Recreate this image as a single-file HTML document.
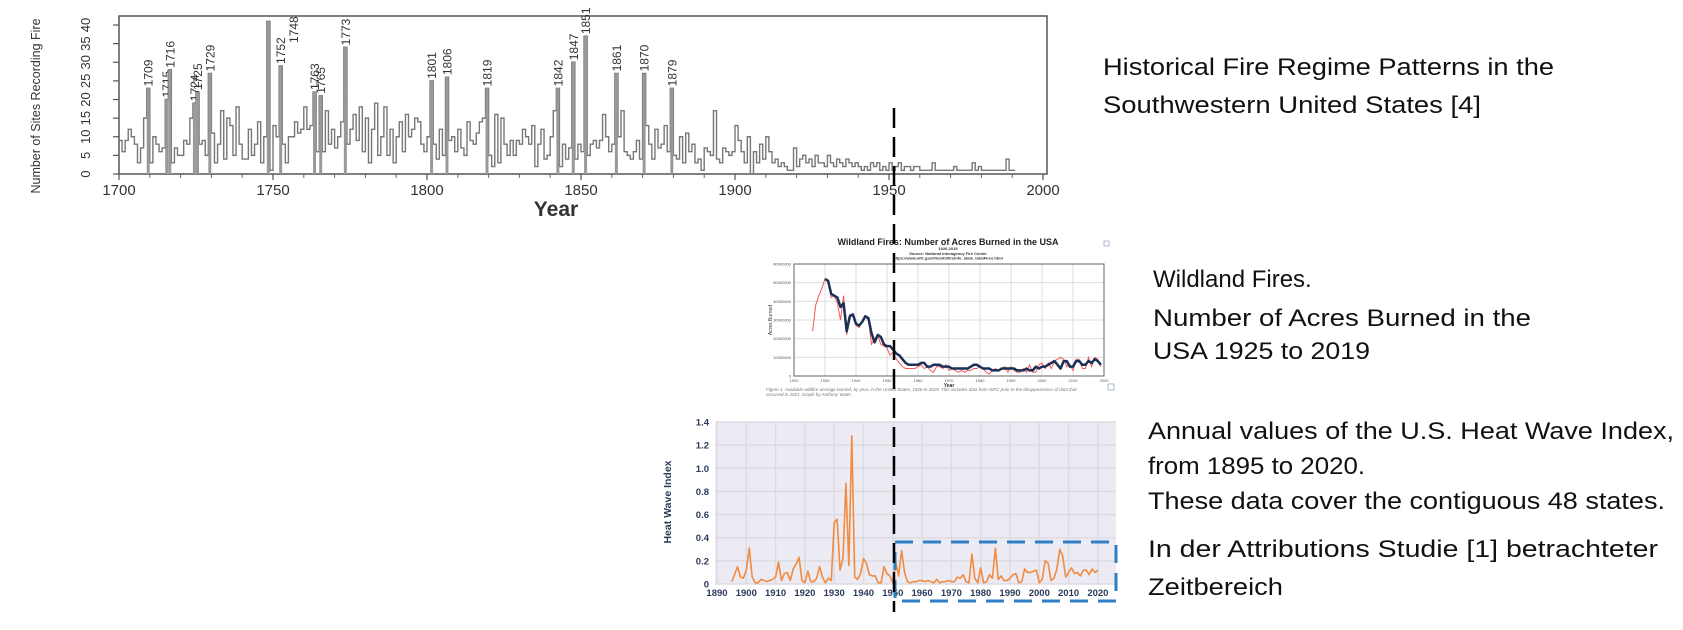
<!DOCTYPE html>
<html><head><meta charset="utf-8"><style>
html,body{margin:0;padding:0;background:#fff;}
svg{display:block;font-family:"Liberation Sans",sans-serif;}
.rt{font-family:"Liberation Sans",sans-serif;font-size:24px;fill:#111;}
</style></head><body>
<svg id="s" width="1683" height="630" viewBox="0 0 1683 630">
<g id="top"></g>
<g id="mid"></g>
<g id="bot"></g>
<g>
<text class="rt" x="1103" y="75" textLength="451" lengthAdjust="spacingAndGlyphs">Historical Fire Regime Patterns in the</text>
<text class="rt" x="1103" y="113" textLength="378" lengthAdjust="spacingAndGlyphs">Southwestern United States [4]</text>
<text class="rt" x="1153" y="287">Wildland Fires.</text>
<text class="rt" x="1153" y="326" textLength="378" lengthAdjust="spacingAndGlyphs">Number of Acres Burned in the</text>
<text class="rt" x="1153" y="359" textLength="217" lengthAdjust="spacingAndGlyphs">USA 1925 to 2019</text>
<text class="rt" x="1148" y="439" textLength="526" lengthAdjust="spacingAndGlyphs">Annual values of the U.S. Heat Wave Index,</text>
<text class="rt" x="1148" y="474" textLength="217" lengthAdjust="spacingAndGlyphs">from 1895 to 2020.</text>
<text class="rt" x="1148" y="509" textLength="517" lengthAdjust="spacingAndGlyphs">These data cover the contiguous 48 states.</text>
<text class="rt" x="1148" y="557" textLength="510" lengthAdjust="spacingAndGlyphs">In der Attributions Studie [1] betrachteter</text>
<text class="rt" x="1148" y="595" textLength="135" lengthAdjust="spacingAndGlyphs">Zeitbereich</text>
</g>
<rect x="895" y="542" width="221" height="59" fill="none" stroke="#2f7fc4" stroke-width="3" stroke-dasharray="18,10"/>
<line x1="894" y1="108" x2="894" y2="612" stroke="#000" stroke-width="2.5" stroke-dasharray="20,9"/>
</svg>
<script>
// ---------- top chart data ----------
const fireStartYear = 1700;
const fireCounts = [
9,6,9,12,10,8,3,7,15,23,
3,10,8,6,7,20,28,3,7,5,
5,9,8,15,19,22,8,9,5,27,
11,3,8,17,4,15,13,5,18,8,
4,4,12,5,8,14,3,10,41,1,
13,10,29,8,3,10,10,14,11,12,
18,12,13,22,6,21,6,17,8,12,
7,10,14,34,8,12,16,9,18,6,
15,3,12,19,5,10,18,5,12,3,
10,14,6,16,10,12,15,14,8,6,
10,25,8,4,12,5,26,9,10,6,
12,7,5,14,9,8,11,14,15,23,
5,2,16,3,15,8,5,9,5,9,
8,12,10,8,13,2,8,12,4,5,
10,17,23,2,8,4,7,30,4,8,
6,37,5,8,9,7,9,16,10,6,
8,27,10,17,6,5,4,6,9,4,
27,13,8,4,12,7,8,13,6,23,
5,4,10,3,11,6,8,3,4,1,
7,6,5,17,4,3,7,6,5,6,
13,9,6,3,10,0,6,3,8,4,
10,6,3,4,2,3,2,1,1,7,
2,4,5,3,4,2,5,3,3,2,
5,3,2,4,3,2,4,3,2,3,
2,1,2,1,3,2,3,1,2,1,
3,1,2,3,1,2,2,1,2,2,
1,1,1,1,3,1,1,1,1,1,
1,2,1,1,1,1,1,3,1,2,
1,1,1,1,1,1,1,1,4,1,
1];
const fireLabelYears = [1709,1715,1716,1724,1725,1729,1748,1752,1763,1765,1773,1801,1806,1819,1842,1847,1851,1861,1870,1879];
const fireYTicks = [0,5,10,15,20,25,30,35,40];
const fireXTicks = [1700,1750,1800,1850,1900,1950,2000];

// ---------- middle chart data ----------
const acresRedYears = [];
for (let y=1926;y<=2019;y++) acresRedYears.push(y);
const acresRed = [24,38,43,47,52,50,42,43,39,30,43,22,33,33,27,26,29,32,30,17,20,22,17,16,15,11,13,9,7,5,4,4,4,4,5,6,4,5,3,2,5,5,4,6,3,4,3,2,3,2,3,3,4,4,5,4,2,1,3,4,3,4,5,2,5,3,2,2,4,2,6,2,2,6,7,4,7,4,8,9,10,9,5,6,3,9,9,4,4,10,5,10,9,5];
const acresBlueYears = [];
for (let y=1930;y<=2019;y++) acresBlueYears.push(y);
const acresBlue = [52,51,44,43,42,37,39,24,32,33,28,27,29,32,31,23,18,22,21,17,16,16,14,12,11,9,7,6,6,6,6,7,7,5,5,6,6,6,5,5,5,4,4,4,4,4,4,5,6,6,5,4,4,4,3,3,3,4,4,4,4,4,3,3,3,4,3,3,5,4,5,5,6,7,8,6,4,8,8,5,5,8,8,6,6,8,7,9,8,6];
const acresYTicks = [0,10,20,30,40,50,60];
const acresXTicks = [1920,1930,1940,1950,1960,1970,1980,1990,2000,2010,2020];

// ---------- bottom chart data ----------
const heatStartYear = 1895;
const heatIndex = [0.02,0.08,0.15,0.06,0.05,0.12,0.31,0.06,0.01,0.01,
0.04,0.03,0.02,0.03,0.04,0.06,0.19,0.03,0.09,0.1,
0.03,0.13,0.17,0.23,0.03,0.01,0.11,0.02,0.02,0.05,
0.15,0.06,0.01,0.05,0.03,0.53,0.56,0.12,0.22,0.87,
0.16,1.28,0.06,0.04,0.09,0.22,0.18,0.08,0.07,0.07,
0.01,0.01,0.15,0.09,0.07,0.01,0.19,0.07,0.29,0.1,
0.02,0.01,0.02,0.02,0.03,0.03,0.02,0.03,0.02,0.01,
0.04,0.01,0.02,0.02,0.03,0.02,0.02,0.06,0.05,0.08,
0.02,0.01,0.26,0.05,0.01,0.14,0.01,0.02,0.08,0.05,
0.31,0.04,0.07,0.03,0.03,0.05,0.08,0.09,0.01,0.02,
0.13,0.1,0.1,0.11,0.12,0.01,0.04,0.2,0.18,0.03,
0.05,0.13,0.3,0.24,0.06,0.1,0.14,0.09,0.1,0.07,
0.12,0.12,0.08,0.13,0.1,0.12];
const heatYTicks = [0,0.2,0.4,0.6,0.8,1.0,1.2,1.4];
const heatXTicks = [1890,1900,1910,1920,1930,1940,1950,1960,1970,1980,1990,2000,2010,2020];

const NS = "http://www.w3.org/2000/svg";
function mk(parent, tag, attrs, text){
  const e = document.createElementNS(NS, tag);
  for (const k in attrs) e.setAttribute(k, attrs[k]);
  if (text !== undefined) e.textContent = text;
  parent.appendChild(e);
  return e;
}

// ===== TOP =====
(function(){
  const g = document.getElementById('top');
  const x = yr => 119 + (yr-1700)*(1043-119)/300;
  const y = v => 174 - v*(174-25)/40;
  const frame = mk(g,'rect',{x:119,y:16,width:928,height:158,fill:'none',stroke:'#555','stroke-width':1.5});
  
  
  fireYTicks.forEach(t=>{
    const tk = mk(g,'line',{x1:113,x2:119,y1:y(t),y2:y(t),stroke:'#555','stroke-width':1.2});
    
    
    const lb = mk(g,'text',{x:0,y:0,transform:`translate(90,${y(t)}) rotate(-90)`,'text-anchor':'middle','font-size':13,fill:'#333'},String(t));
    
    
  });
  fireXTicks.forEach(t=>{
    const tk = mk(g,'line',{x1:x(t),x2:x(t),y1:174,y2:180,stroke:'#555','stroke-width':1.2});
    
    
    const lb = mk(g,'text',{x:x(t),y:195,'text-anchor':'middle','font-size':15,fill:'#333'},String(t));
    
    
  });
  for (let t=1710;t<2000;t+=10){ if (t%50) { const m=mk(g,'line',{x1:x(t),x2:x(t),y1:174,y2:178,stroke:'#666','stroke-width':1});
    
     } }
  const yt = mk(g,'text',{x:0,y:0,transform:'translate(40,106) rotate(-90)','text-anchor':'middle','font-size':12.5,fill:'#333'},'Number of Sites Recording Fire');
  
  
  const xt = mk(g,'text',{x:556,y:216,'text-anchor':'middle','font-size':21,'font-weight':'bold',fill:'#333'},'Year');
  
  
  let d='';
  fireCounts.forEach((v,i)=>{
    const yr = fireStartYear+i;
    d += (i===0?'M':'L')+x(yr)+','+y(v)+'L'+x(yr+1)+','+y(v);
  });
  const p = mk(g,'path',{d:d,fill:'none',stroke:'#777','stroke-width':1.4});
  
  
  fireLabelYears.forEach(yr=>{
    const v = fireCounts[yr-fireStartYear];
    const b = mk(g,'rect',{x:x(yr),y:y(v),width:3,height:174-y(v),fill:'#999'});
    
    
    let lx = x(yr)+6, ly = y(v)-2;
    if (yr===1748){ lx = x(1752)+19; ly = 43; }
    const t = mk(g,'text',{x:0,y:0,transform:`translate(${lx},${ly}) rotate(-90)`,'font-size':12,fill:'#333'},String(yr));
    
    
  });
})();

// ===== MIDDLE =====
(function(){
  const g = document.getElementById('mid');
  const L=794,R=1104,T=264,B=376;
  const x = yr => L + (yr-1920)*(R-L)/100;
  const y = v => B - v*(B-T)/60;
  acresYTicks.forEach(t=>{
    const gl = mk(g,'line',{x1:L,x2:R,y1:y(t),y2:y(t),stroke:'#ddd','stroke-width':1});
    
    
    const lb = mk(g,'text',{x:L-3,y:y(t)+1.5,'text-anchor':'end','font-size':4,fill:'#555'},t===0?'0':String(t*1000000));
    
    
  });
  acresXTicks.forEach(t=>{
    const gl = mk(g,'line',{x1:x(t),x2:x(t),y1:T,y2:B,stroke:'#ddd','stroke-width':1});
    
    
    const lb = mk(g,'text',{x:x(t),y:B+6,'text-anchor':'middle','font-size':4,fill:'#555'},String(t));
    
    
  });
  const fr = mk(g,'rect',{x:L,y:T,width:R-L,height:B-T,fill:'none',stroke:'#666','stroke-width':1});
  
  
  const t1 = mk(g,'text',{x:948,y:245,'text-anchor':'middle','font-size':9,'font-weight':'bold',fill:'#222'},'Wildland Fires: Number of Acres Burned in the USA');
  
  
  const t2 = mk(g,'text',{x:948,y:250,'text-anchor':'middle','font-size':4,'font-weight':'bold',fill:'#333'},'1926-2019');
  
  
  const t3 = mk(g,'text',{x:948,y:255,'text-anchor':'middle','font-size':4,'font-weight':'bold',fill:'#333'},'Source: National Interagency Fire Center');
  
  
  const t4 = mk(g,'text',{x:948,y:259.5,'text-anchor':'middle','font-size':4,'font-weight':'bold',fill:'#333'},'https://www.nifc.gov/fireInfo/fireInfo_stats_totalFires.html');
  
  
  const yt = mk(g,'text',{x:0,y:0,transform:'translate(772,320) rotate(-90)','text-anchor':'middle','font-size':5,fill:'#333'},'Acres Burned');
  
  
  const xt = mk(g,'text',{x:949,y:387,'text-anchor':'middle','font-size':5,'font-weight':'bold',fill:'#333'},'Year');
  
  
  const cap = mk(g,'text',{x:766,y:391,'font-size':4.5,'font-style':'italic',fill:'#777'},'Figure 1. Available wildfire acreage burned, by year, in the United States, 1926 to 2019. This includes data from NIFC prior to the disappearance of data that');
  
  
  const cap2 = mk(g,'text',{x:766,y:396,'font-size':4.5,'font-style':'italic',fill:'#777'},'occurred in 2021. Graph by Anthony Watts.');
  
  
  const pr = mk(g,'polyline',{points:acresRed.map((v,i)=>x(acresRedYears[i])+','+y(v)).join(' '),fill:'none',stroke:'#f05a5a','stroke-width':1});
  
  
  const pb = mk(g,'polyline',{points:acresBlue.map((v,i)=>x(acresBlueYears[i])+','+y(v)).join(' '),fill:'none',stroke:'#1c2f57','stroke-width':2.5,'stroke-linejoin':'round'});
  
  
  const ic = mk(g,'rect',{x:1104,y:241,width:5,height:5,fill:'none',stroke:'#9ab','stroke-width':0.8});
  
  
})();

// ===== BOTTOM =====
(function(){
  const g = document.getElementById('bot');
  const L=715,R=1116,T=422,B=584;
  const x = yr => 717 + (yr-1890)*29.3/10;
  const y = v => B - v*(B-T)/1.4;
  const bg = mk(g,'rect',{x:L,y:T,width:R-L,height:B-T,fill:'#ecebf3'});
  
  
  heatYTicks.forEach(t=>{
    const gl = mk(g,'line',{x1:L,x2:R,y1:y(t),y2:y(t),stroke:'#dcdbe2','stroke-width':1.5});
    
    
    const lb = mk(g,'text',{x:L-6,y:y(t)+3.5,'text-anchor':'end','font-size':9.5,'font-weight':'bold',fill:'#2b3a5a'},t===0?'0':t.toFixed(1));
    
    
  });
  heatXTicks.forEach(t=>{
    const gl = mk(g,'line',{x1:x(t),x2:x(t),y1:T,y2:B,stroke:'#dcdbe2','stroke-width':1.5});
    
    
    const lb = mk(g,'text',{x:x(t),y:596,'text-anchor':'middle','font-size':9.5,'font-weight':'bold',fill:'#2b3a5a'},String(t));
    
    
  });
  const yt = mk(g,'text',{x:0,y:0,transform:'translate(671,502) rotate(-90)','text-anchor':'middle','font-size':10.5,'font-weight':'bold',fill:'#2b3a5a'},'Heat Wave Index');
  
  
  const pl = mk(g,'polyline',{points:heatIndex.map((v,i)=>x(heatStartYear+i)+','+y(v)).join(' '),fill:'none',stroke:'#f28a40','stroke-width':1.6,'stroke-linejoin':'round'});
  
  
  const ic = mk(g,'rect',{x:1108,y:384,width:6,height:6,fill:'none',stroke:'#9ab','stroke-width':0.8});
  
  
})();
</script>
</body></html>
